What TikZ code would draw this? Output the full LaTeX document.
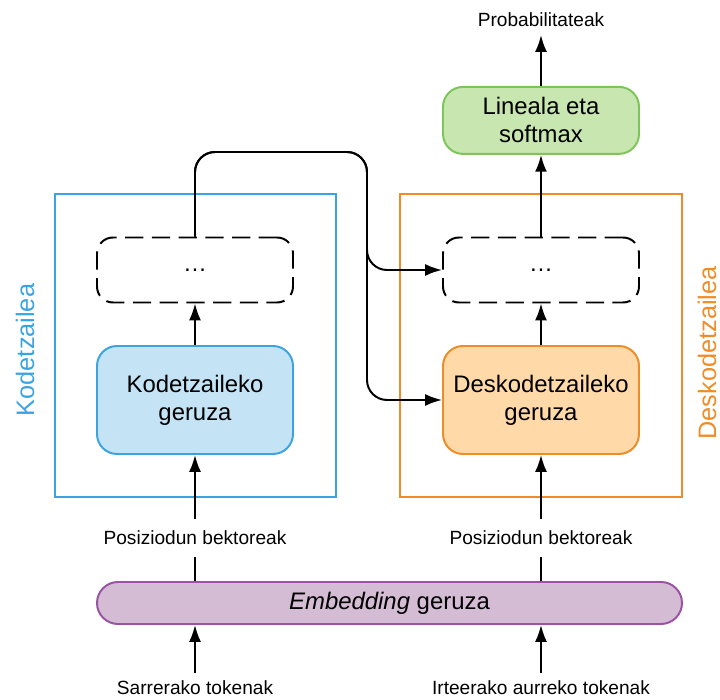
\documentclass[tikz,border=0pt]{standalone}
\usepackage{fontspec}
\setmainfont{Liberation Sans}
\usepackage{tikz}
\usetikzlibrary{positioning}
\usetikzlibrary{arrows.meta}
\definecolor{encfill}{HTML}{C4E4F6}
\definecolor{encline}{HTML}{3BA4E0}
\definecolor{decfill}{HTML}{FFD9A8}
\definecolor{decline}{HTML}{F08C28}
\definecolor{linfill}{HTML}{C8E6B0}
\definecolor{linline}{HTML}{7DC55A}
\definecolor{embfill}{HTML}{D5BCD5}
\definecolor{embline}{HTML}{9A52A2}
\newcommand{\boxtxt}{\fontsize{17}{20}\selectfont}
\newcommand{\lbltxt}{\fontsize{13.6}{16}\selectfont}
\newcommand{\sidetxt}{\fontsize{18}{21}\selectfont}
\tikzset{every picture/.style={line width=1.4pt},
  layer/.style={draw, rounded corners=0.5cm, minimum width=4.9cm, minimum height=2.7cm, align=center, font=\boxtxt},
  dotsbox/.style={draw, dash pattern=on 13pt off 6pt, rounded corners=0.4cm, minimum width=4.9cm, minimum height=1.625cm, font=\boxtxt},
  lbl/.style={font=\lbltxt, inner sep=5pt},
  poslbl/.style={lbl, inner ysep=8pt},
  sidelbl/.style={rotate=90, font=\sidetxt, inner sep=0.5pt},
  arr/.style={-{Latex[length=12pt,width=8.5pt]}}}

\begin{document}
\begin{tikzpicture}
\useasboundingbox (0,0) rectangle (18,17.5);

\node (enc) at (4.8875,8.8625) [draw=encline, minimum width=7.025cm, minimum height=7.575cm] {};
\node (dec) at (13.525,8.8625) [draw=decline, minimum width=7.05cm, minimum height=7.575cm] {};
\node (enclbl) at (0.625,8.75) [sidelbl, text=encline] {Kodetzailea};
\node (declbl) at (17.68,8.675) [sidelbl, text=decline] {Deskodetzailea};

\node (enclayer) at (4.875,7.5) [layer, fill=encfill, draw=encline] {Kodetzaileko\\geruza};
\node (encdots) at (4.875,10.75) [dotsbox] {\ldots};
\node (declayer) at (13.525,7.5) [layer, fill=decfill, draw=decline] {Deskodetzaileko\\geruza};
\node (decdots) at (13.525,10.75) [dotsbox] {\ldots};
\node (lin) at (13.525,14.49) [layer, fill=linfill, draw=linline, minimum height=1.675cm] {Lineala eta\\softmax};
\node (prob) at (13.525,17.0) [lbl] {Probabilitateak};

\node (emb) at (9.7375,2.425) [draw=embline, fill=embfill, rounded corners=0.525cm, minimum width=14.625cm, minimum height=1.05cm, font=\boxtxt] {\textit{Embedding} geruza};
\node (encpos) at (4.875,4.05) [poslbl] {Posiziodun bektoreak};
\node (decpos) at (13.525,4.05) [poslbl] {Posiziodun bektoreak};
\node (encin) at (4.875,0.3) [lbl] {Sarrerako tokenak};
\node (decin) at (13.525,0.3) [lbl] {Irteerako aurreko tokenak};

\coordinate (turn) at (9.175,13.7);

\draw [arr] (encin) -- (encin |- emb.south);
\draw [arr] (decin) -- (decin |- emb.south);
\draw [-] (encpos.south |- emb.north) -- (encpos.south);
\draw [-] (decpos.south |- emb.north) -- (decpos.south);
\draw [arr] (encpos) -- (enclayer);
\draw [arr] (decpos) -- (declayer);
\draw [arr] (enclayer) -- (encdots);
\draw [arr] (declayer) -- (decdots);
\draw [arr] (decdots) -- (lin);
\draw [arr] (lin) -- (prob);
\draw [arr, rounded corners=0.5cm] (encdots.north) |- (turn) |- (decdots.west);
\draw [arr, rounded corners=0.5cm] (encdots.north) |- (turn) |- (declayer.west);
\end{tikzpicture}
\end{document}
